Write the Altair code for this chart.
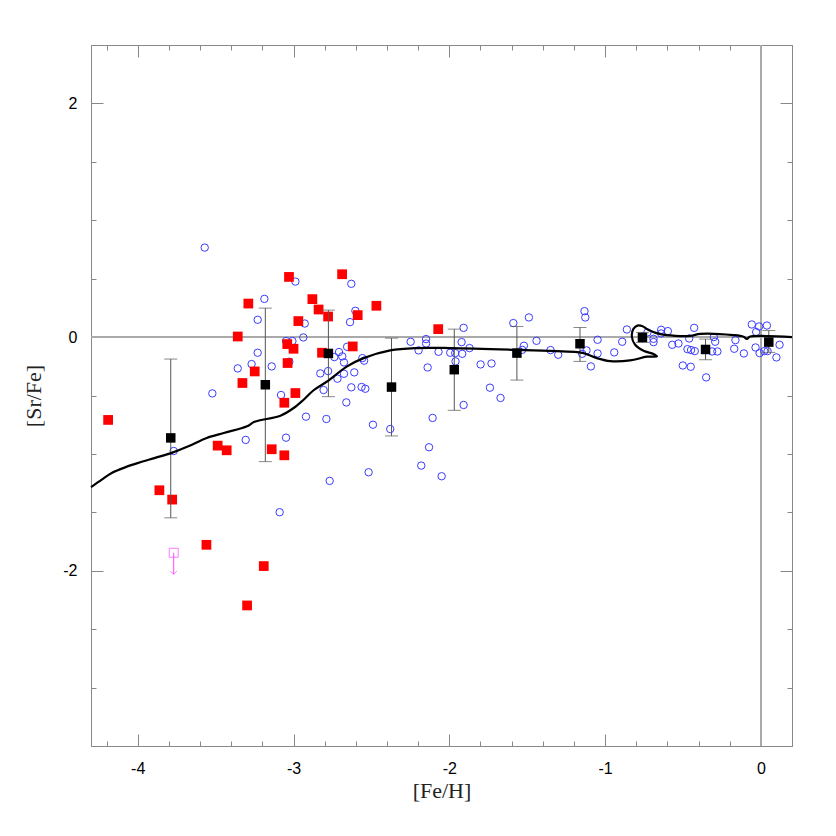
import altair as alt
import pandas as pd

# ---------------- data ----------------
red_x = [-3.029, -2.688, -3.290, -2.879, -2.839, -2.778, -2.468, -2.588, -2.969, -3.358,
         -2.071, -3.040, -3.000, -2.817, -2.620, -3.038, -3.249, -3.328, -2.988, -3.059,
         -3.487, -3.429, -3.140, -3.059, -4.190, -3.861, -3.779, -3.559, -3.191, -3.298]
red_y = [0.515, 0.538, 0.287, 0.325, 0.236, 0.176, 0.268, 0.188, 0.137, 0.005,
         0.068, -0.060, -0.100, -0.134, -0.080, -0.222, -0.294, -0.393, -0.479, -0.562,
         -0.929, -0.969, -0.960, -1.012, -0.709, -1.311, -1.391, -1.778, -1.960, -2.297]

blue_x = [-3.570, -2.988, -2.629, -3.187, -3.230, -2.928, -2.603, -2.637, -2.937, -3.048,
          -3.007, -3.230, -3.269, -3.358, -3.140, -3.027, -3.521, -3.080, -3.307, -3.048,
          -2.920, -2.789, -2.768, -2.656, -2.708, -2.687, -2.738, -2.676, -2.558, -2.547,
          -2.828, -2.778, -2.718, -2.676, -2.610, -2.807, -2.629, -2.563, -2.539, -2.661,
          -2.490, -2.379, -2.518, -2.248, -2.197, -2.149, -2.149, -2.069, -1.994, -2.139,
          -2.107, -2.130, -2.180, -2.049, -3.769, -3.089,
          -1.908, -1.921, -1.870, -1.917, -1.962, -1.960, -1.799, -1.729, -1.739, -1.671,
          -1.908, -1.589, -1.489, -1.521, -1.532, -1.440, -1.350, -1.301, -1.132, -1.127,
          -1.048, -1.119, -1.147, -1.048, -1.091, -0.941, -0.890, -0.860,
          -0.728, -0.689, -0.689, -0.640, -0.640, -0.597, -0.569, -0.529, -0.460, -0.428,
          -0.471, -0.448, -0.424, -0.501, -0.450, -0.351, -0.302, -0.293, -0.313, -0.279,
          -0.163, -0.171, -0.109, -0.058, -0.011, 0.039, -0.030, -0.034, -0.008, 0.022,
          0.043, 0.120, 0.100]
blue_y = [0.766, 0.475, 0.456, 0.327, 0.148, 0.116, 0.225, 0.128, -0.003, -0.034,
          -0.034, -0.134, -0.231, -0.268, -0.251, -0.211, -0.482, -0.496, -0.880, -0.861,
          -0.681, -0.701, -1.231, -0.083, -0.128, -0.165, -0.171, -0.217, -0.180, -0.202,
          -0.311, -0.291, -0.356, -0.314, -0.302, -0.453, -0.430, -0.427, -0.442, -0.559,
          -0.750, -0.787, -1.157, -0.040, -0.114, -0.017, -0.055, -0.126, -0.134, -0.260,
          -0.692, -0.943, -1.100, -1.191, -0.975, -1.499,
          0.079, -0.043, -0.094, -0.143, -0.137, -0.208, -0.234, -0.226, -0.433, -0.521,
          -0.581, 0.120, 0.168, -0.074, -0.109, -0.032, -0.111, -0.151, 0.222, 0.168,
          -0.023, -0.114, -0.143, -0.140, -0.251, -0.131, -0.040, 0.065,
          0.040, -0.015, -0.043, 0.062, 0.031, 0.051, -0.066, -0.055, -0.012, 0.079,
          -0.103, -0.111, -0.120, -0.243, -0.254, -0.345, 0.000, -0.040, -0.123, -0.123,
          -0.026, -0.100, -0.140, 0.108, 0.091, 0.099, 0.043, -0.089, -0.137, -0.120,
          -0.120, -0.066, -0.174]

mean_x = [-3.788, -3.181, -2.776, -2.371, -1.968, -1.566, -1.161, -0.760, -0.355, 0.051]
mean_y = [-0.863, -0.408, -0.140, -0.428, -0.279, -0.137, -0.057, -0.003, -0.106, -0.043]
err_hi = [-0.188, 0.248, 0.231, -0.009, 0.068, 0.091, 0.082, 0.040, -0.017, 0.056]
err_lo = [-1.547, -1.066, -0.510, -0.846, -0.627, -0.368, -0.208, -0.046, -0.194, -0.131]

limit_x = [-3.769]
limit_y = [-1.846]
limit_arrow_end = [-2.03]

model_x = [-4.300, -4.231, -4.167, -4.081, -3.996, -3.888, -3.782, -3.675, -3.557, -3.448,
           -3.298, -3.250, -3.084, -2.999, -2.935, -2.871, -2.785, -2.656, -2.550, -2.379,
           -2.207, -1.994, -1.566, -1.180, -1.138, -1.052, -0.967, -0.839, -0.731, -0.667,
           -0.689, -0.753, -0.807, -0.828, -0.818, -0.792, -0.763, -0.721, -0.646, -0.454,
           -0.389, -0.176, -0.111, -0.090, -0.068, 0.039, 0.200]
model_y = [-1.285, -1.220, -1.163, -1.115, -1.077, -1.034, -0.991, -0.935, -0.863, -0.821,
           -0.764, -0.725, -0.673, -0.607, -0.536, -0.455, -0.380, -0.251, -0.180, -0.114,
           -0.094, -0.094, -0.109, -0.128, -0.137, -0.180, -0.206, -0.200, -0.168, -0.166,
           -0.145, -0.117, -0.066, 0.005, 0.070, 0.098, 0.095, 0.060, 0.025, 0.010,
           0.028, 0.017, 0.003, -0.015, 0.005, 0.009, 0.000]

x_tick_values = [round(-4.2 + 0.2 * i, 1) for i in range(22)]
y_tick_values = [round(-3.0 + 0.5 * i, 1) for i in range(11)]

# ---------------- frames ----------------
red_df = pd.DataFrame({"x": red_x, "y": red_y})
blue_df = pd.DataFrame({"x": blue_x, "y": blue_y})
mean_df = pd.DataFrame({"x": mean_x, "y": mean_y, "lo": err_lo, "hi": err_hi})
cap_df = pd.DataFrame({"x": mean_x + mean_x, "y": err_lo + err_hi})
lim_df = pd.DataFrame({"x": limit_x, "y": limit_y, "end": limit_arrow_end})
model_df = pd.DataFrame({"x": model_x, "y": model_y, "i": list(range(len(model_x)))})

XD = [-4.3, 0.2]
YD = [-3.5, 2.5]
xs = alt.Scale(domain=XD, nice=False, zero=False)
ys = alt.Scale(domain=YD, nice=False, zero=False)

x_major = "abs(datum.value - round(datum.value)) < 0.001"
y_major = "abs(datum.value/2 - round(datum.value/2)) < 0.001"
x_tick_size = {"condition": {"test": "!(" + x_major + ")", "value": -5}, "value": -12}
y_tick_size = {"condition": {"test": "!(" + y_major + ")", "value": -5}, "value": -12}
x_label_expr = x_major + " ? '' + round(datum.value) : ''"
y_label_expr = y_major + " ? '' + round(datum.value) : ''"

common_axis = dict(
    grid=False, domainColor="#888888", tickColor="#888888", tickWidth=1,
    labelFont="Liberation Sans", labelFontSize=16, labelColor="black",
    titleFont="Liberation Serif", titleFontSize=22, titleFontWeight="normal",
    titleColor="#222222",
)

x_axis = alt.Axis(values=x_tick_values, labelExpr=x_label_expr, tickSize=x_tick_size,
                  title="[Fe/H]", labelPadding=26, titlePadding=4, **common_axis)
y_axis = alt.Axis(values=y_tick_values, labelExpr=y_label_expr, tickSize=y_tick_size,
                  title="[Sr/Fe]", labelPadding=26, titlePadding=17, **common_axis)

X = lambda f="x": alt.X(f"{f}:Q", scale=xs, axis=x_axis)
Y = lambda f="y": alt.Y(f"{f}:Q", scale=ys, axis=y_axis)

zero_h = alt.Chart(red_df).mark_rule(color="#aaaaaa", strokeWidth=1.5).encode(y=alt.datum(0, scale=ys, axis=y_axis))
zero_v = alt.Chart(red_df).mark_rule(color="#aaaaaa", strokeWidth=1.5).encode(x=alt.datum(0, scale=xs, axis=x_axis))

blue = alt.Chart(blue_df).mark_point(shape="circle", filled=False, color="#3b3bff",
                                     size=55, strokeWidth=1, opacity=1).encode(x=X(), y=Y())
red = alt.Chart(red_df).mark_square(color="#ff0000", size=95, opacity=1).encode(x=X(), y=Y())

model = alt.Chart(model_df).mark_line(color="black", strokeWidth=2.2, interpolate="catmull-rom").encode(
    x=X(), y=Y(), order="i:Q")

err = alt.Chart(mean_df).mark_rule(color="#555555", strokeWidth=1).encode(
    x=X(), y=alt.Y("lo:Q", scale=ys, axis=y_axis), y2="hi:Q")
caps = alt.Chart(cap_df).mark_tick(color="#555555", thickness=1, size=13, orient="horizontal").encode(
    x=X(), y=Y())
means = alt.Chart(mean_df).mark_square(color="black", size=90, opacity=1).encode(x=X(), y=Y())

lim_line = alt.Chart(lim_df).mark_rule(color="#ff44ff", strokeWidth=1).encode(
    x=X(), y=Y(), y2="end:Q")
lim_sq = alt.Chart(lim_df).mark_square(filled=False, color="#ff44ff", size=80, strokeWidth=1).encode(
    x=X(), y=Y())
lim_head = alt.Chart(lim_df).mark_point(shape="M-1,-1L0,0L1,-1", filled=False, color="#ff44ff",
                                        size=40, strokeWidth=1).encode(
    x=X(), y=alt.Y("end:Q", scale=ys, axis=y_axis))

# mirror axes (top/right) with ticks only
mirror = alt.Chart(red_df).mark_point(opacity=0).encode(
    x=alt.X("x:Q", scale=xs, axis=alt.Axis(orient="top", values=x_tick_values, labels=False,
                                             title=None, tickSize=x_tick_size, grid=False,
                                             domainColor="#888888", tickColor="#888888")),
    y=alt.Y("y:Q", scale=ys, axis=alt.Axis(orient="right", values=y_tick_values, labels=False,
                                             title=None, tickSize=y_tick_size, grid=False,
                                             domainColor="#888888", tickColor="#888888")),
)

main = alt.layer(zero_h, zero_v, blue, red, err, caps, model, means, lim_line, lim_sq, lim_head)

chart = alt.layer(main, mirror).resolve_axis(x="independent", y="independent").properties(
    width=701, height=701,
    autosize=alt.AutoSizeParams(type="none"),
    padding={"left": 83, "top": 37, "right": 30, "bottom": 80},
).configure_view(stroke="#888888")

chart.save("out.html", embed_options={"renderer": "svg", "actions": False})
